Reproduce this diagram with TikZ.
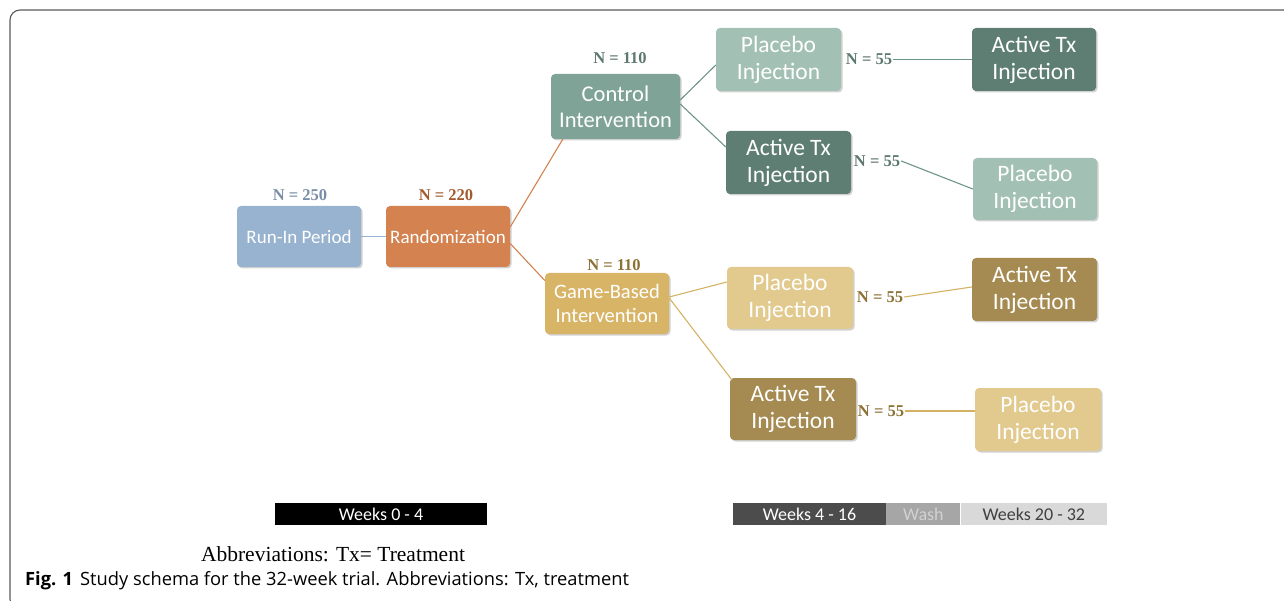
\documentclass[tikz,border=0pt]{standalone}
\usepackage{fontspec}
\setmainfont{Carlito}
\newfontfamily\nfont{Liberation Serif}
\newfontfamily\capfont{Open Sans}
\usetikzlibrary{calc}
\definecolor{cRun}{HTML}{98B3CF}
\definecolor{cRand}{HTML}{D4824F}
\definecolor{cCtrl}{HTML}{7FA497}
\definecolor{cGame}{HTML}{D8B467}
\definecolor{cPlG}{HTML}{A3C0B5}
\definecolor{cAcG}{HTML}{5F7E73}
\definecolor{cPlY}{HTML}{E2C98D}
\definecolor{cAcY}{HTML}{A58B51}
\definecolor{tRun}{HTML}{7A8EA6}
\definecolor{tRand}{HTML}{A35A2E}
\definecolor{tG}{HTML}{5C7870}
\definecolor{tY}{HTML}{8C7135}
\definecolor{lG}{HTML}{6E9488}
\definecolor{lY}{HTML}{D4B264}
\tikzset{
  box/.style={rounded corners=4pt, text=white, align=center, inner sep=0pt,
    font=\fontsize{19}{23}\selectfont},
  inj/.style={font=\fontsize{23.5}{27}\selectfont},
  shadowed/.style={preaction={fill=black!18, transform canvas={xshift=1.5pt,yshift=-1.5pt}}},
  nlab/.style={font=\nfont\bfseries\fontsize{16.5}{18}\selectfont, inner sep=1pt},
  conn/.style={line width=1.1pt},
  bar/.style={inner sep=0pt, minimum height=22pt, font=\fontsize{18}{20}\selectfont}
}
\begin{document}
\begin{tikzpicture}[x=1pt,y=-1pt]
\useasboundingbox (0,0) rectangle (1284,601);
% outer frame
\draw[line width=1.1pt, black!65, rounded corners=10pt] (1300,10) -- (10,10) -- (10,609) -- (40,609);

% boxes
\node[box, shadowed, fill=cRun, minimum width=124pt, minimum height=61pt] (runin) at (299,236.5) {Run-In Period};
\node[box, shadowed, fill=cRand, minimum width=124pt, minimum height=61pt] (rand) at (448,236.5) {Randomization};
\node[box, shadowed, fill=cCtrl, minimum width=129pt, minimum height=65pt, font=\fontsize{22.5}{26}\selectfont] (ctrl) at (615.5,106.5) {Control\\Intervention};
\node[box, shadowed, fill=cGame, minimum width=124pt, minimum height=61pt, font=\fontsize{20.5}{24}\selectfont] (game) at (607,303.5) {Game-Based\\Intervention};
\node[box, inj, shadowed, fill=cPlG, minimum width=125pt, minimum height=63pt] (cp1) at (778.5,59.5) {Placebo\\Injection};
\node[box, inj, shadowed, fill=cAcG, minimum width=125pt, minimum height=63pt] (ca1) at (788.5,162.5) {Active Tx\\Injection};
\node[box, inj, shadowed, fill=cAcG, minimum width=124pt, minimum height=63pt] (ca2) at (1034,59.5) {Active Tx\\Injection};
\node[box, inj, shadowed, fill=cPlG, minimum width=124pt, minimum height=62pt] (cp2) at (1035,189) {Placebo\\Injection};
\node[box, inj, shadowed, fill=cPlY, minimum width=126pt, minimum height=62pt] (gp1) at (790,298) {Placebo\\Injection};
\node[box, inj, shadowed, fill=cAcY, minimum width=126pt, minimum height=62pt] (ga1) at (793,409) {Active Tx\\Injection};
\node[box, inj, shadowed, fill=cAcY, minimum width=125pt, minimum height=63pt] (ga2) at (1034.5,289.5) {Active Tx\\Injection};
\node[box, inj, shadowed, fill=cPlY, minimum width=126pt, minimum height=63pt] (gp2) at (1038,419.5) {Placebo\\Injection};

% N labels
\node[nlab, text=tRun] (n250) at (300,195) {N = 250};
\node[nlab, text=tRand] (n220) at (446,195) {N = 220};
\node[nlab, text=tG] (n110a) at (620,58) {N = 110};
\node[nlab, text=tY] (n110b) at (614,265) {N = 110};
\node[nlab, text=tG] (n55a) at (869,59.5) {N = 55};
\node[nlab, text=tG] (n55b) at (877,161) {N = 55};
\node[nlab, text=tY] (n55c) at (880,297) {N = 55};
\node[nlab, text=tY] (n55d) at (881,411) {N = 55};

% connectors
\draw[conn, cRun] (runin.east) -- (rand.west);
\draw[conn, cRand] ([yshift=9.5pt]rand.east) -- ([xshift=12pt]ctrl.south west);
\draw[conn, cRand] ([yshift=-7pt]rand.east) -- ([yshift=23pt]game.west);
\draw[conn, lG] ([yshift=6.5pt]ctrl.east) -- ([yshift=-5.5pt]cp1.west);
\draw[conn, lG] ([yshift=2.5pt]ctrl.east) -- ([yshift=15.5pt]ca1.west);
\draw[conn, lG] (n55a.east) -- (ca2.west);
\draw[conn, lG] (n55b.east) -- (cp2.west);
\draw[conn, lY] ([yshift=6.5pt]game.east) -- ([yshift=16pt]gp1.west);
\draw[conn, lY] ([yshift=5.5pt]game.east) -- ([xshift=2pt,yshift=-2pt]ga1.north west);
\draw[conn, lY] (n55c.east) -- ([yshift=2.5pt]ga2.west);
\draw[conn, lY] (n55d.east) -- ([yshift=8.5pt]gp2.west);

% week bars
\node[bar, fill=black, text=white, minimum width=212pt] (w1) at (381,514) {Weeks 0 - 4};
\node[bar, fill=black!70, text=white, minimum width=153pt] (w2) at (809.5,514) {Weeks 4 - 16};
\node[bar, fill=black!35, text=black!18, minimum width=74pt, anchor=west] (w3) at (w2.east) {Wash};
\node[bar, fill=black!15, text=black!75, minimum width=146pt, anchor=west] (w4) at (w3.east) {Weeks 20 - 32};

% texts
\node[font=\nfont\fontsize{21.5}{24}\selectfont, inner sep=0pt] (abbr) at (333,554) {Abbreviations: Tx= Treatment};
\node[font=\capfont\fontsize{18.3}{20}\selectfont, inner sep=0pt, anchor=west] (cap) at (25,581) {\textbf{Fig. 1}\hspace{7pt}Study schema for the 32-week trial. Abbreviations: Tx, treatment};
\end{tikzpicture}
\end{document}
